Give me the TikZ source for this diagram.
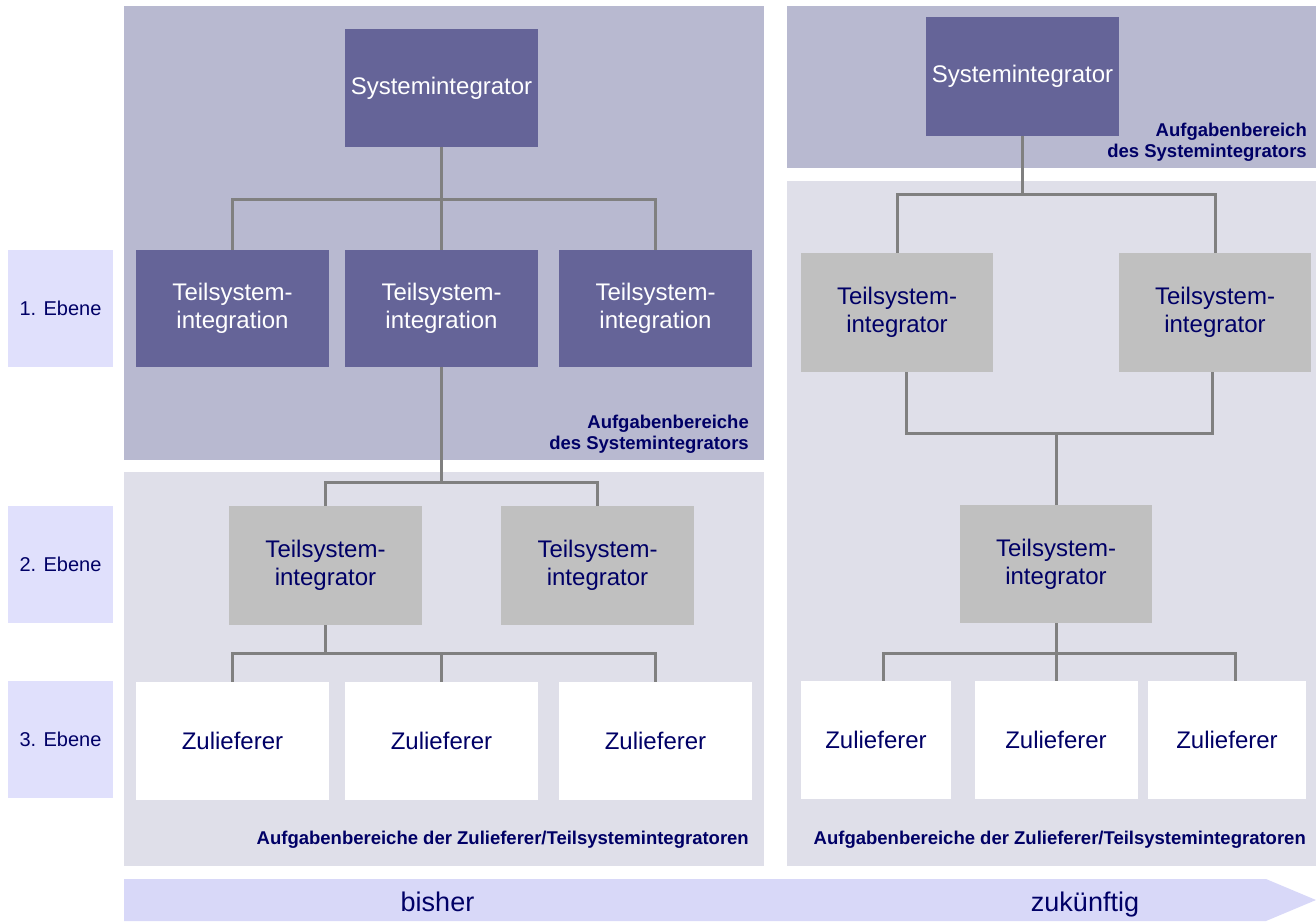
\documentclass[tikz,border=0pt]{standalone}
\usepackage{fontspec}
\setmainfont{Liberation Sans}
\usetikzlibrary{positioning}

\definecolor{areaTop}{RGB}{184,185,208}
\definecolor{areaLow}{RGB}{223,223,233}
\definecolor{sysPurple}{RGB}{101,100,152}
\definecolor{subGray}{RGB}{192,192,192}
\definecolor{levelLilac}{RGB}{224,224,252}
\definecolor{timeLilac}{RGB}{216,216,248}
\definecolor{txtNavy}{RGB}{0,0,102}
\definecolor{linkGray}{RGB}{128,128,128}

\begin{document}
\begin{tikzpicture}[x=1pt, y=-1pt,
    box/.style={rectangle, inner sep=0pt, minimum width=193pt, minimum height=118pt,
      align=center, font=\fontsize{24}{28}\selectfont},
    sysbox/.style={box, fill=sysPurple, text=white},
    subbox/.style={box, fill=subGray, text=txtNavy},
    supbox/.style={box, fill=white, text=txtNavy},
    levelbox/.style={rectangle, inner sep=0pt, minimum width=105pt, minimum height=117pt,
      fill=levelLilac, text=txtNavy, font=\fontsize{20}{24}\selectfont},
    link/.style={draw=linkGray, line width=3pt},
    arealabel/.style={inner sep=0pt, align=right, text=txtNavy,
      font=\fontsize{18.5}{21}\selectfont\bfseries},
    timelabel/.style={inner sep=0pt, anchor=base, text=txtNavy,
      font=\fontsize{27}{32}\selectfont}]
  \useasboundingbox (0,0) rectangle (1316,921);

  % background areas
  \fill[areaTop] (124,6) rectangle (764,460);
  \fill[areaLow] (124,472) rectangle (764,866);
  \fill[areaTop] (787,6) rectangle (1316,168);
  \fill[areaLow] (787,181) rectangle (1316,866);

  % levels
  \node[levelbox] (e1) at (60.5,308.5) {1. Ebene};
  \node[levelbox] (e2) at (60.5,564.5) {2. Ebene};
  \node[levelbox] (e3) at (60.5,739.5) {3. Ebene};

  % bisher
  \node[sysbox] (si1) at (441.5,88) {Systemintegrator};
  \node[sysbox, minimum height=117pt] (tsi1a) at (232.5,308.5) {Teilsystem-\\integration};
  \node[sysbox, minimum height=117pt] (tsi1b) at (441.5,308.5) {Teilsystem-\\integration};
  \node[sysbox, minimum height=117pt] (tsi1c) at (655.5,308.5) {Teilsystem-\\integration};
  \node[subbox, minimum height=119pt] (tsr1a) at (325.5,565.5) {Teilsystem-\\integrator};
  \node[subbox, minimum height=119pt] (tsr1b) at (597.5,565.5) {Teilsystem-\\integrator};
  \node[supbox] (zl1a) at (232.5,741) {Zulieferer};
  \node[supbox] (zl1b) at (441.5,741) {Zulieferer};
  \node[supbox] (zl1c) at (655.5,741) {Zulieferer};

  \coordinate (bus1) at (441.5,199);
  \coordinate (bus2) at (441.5,482);
  \coordinate (bus3) at (441.5,653);
  \draw[link] (si1.south) -- (tsi1b.north);
  \draw[link] (tsi1a.north) |- (bus1) -| (tsi1c.north);
  \draw[link] (tsi1b.south) -- (bus2);
  \draw[link] (tsr1a.north) |- (bus2) -| (tsr1b.north);
  \draw[link] (tsr1a.south) -- (tsr1a.south |- bus3);
  \draw[link] (zl1a.north) |- (bus3) -| (zl1c.north);
  \draw[link] (zl1b.north) -- (bus3);

  \node[arealabel, anchor=south east] (lab1) at (749,454) {Aufgabenbereiche\\des Systemintegrators};
  \node[arealabel, anchor=east] (lab2) at (749,840) {Aufgabenbereiche der Zulieferer/Teilsystemintegratoren};

  % zukuenftig
  \node[sysbox, minimum height=119pt] (si2) at (1022.5,76.5) {Systemintegrator};
  \node[subbox, minimum width=192pt, minimum height=119pt] (tsr2a) at (897,312.5) {Teilsystem-\\integrator};
  \node[subbox, minimum width=192pt, minimum height=119pt] (tsr2b) at (1215,312.5) {Teilsystem-\\integrator};
  \node[subbox, minimum width=192pt] (tsr2c) at (1056,564) {Teilsystem-\\integrator};
  \node[supbox, minimum width=150pt] (zl2a) at (876,740) {Zulieferer};
  \node[supbox, minimum width=163pt] (zl2b) at (1056,740) {Zulieferer};
  \node[supbox, minimum width=158pt] (zl2c) at (1227,740) {Zulieferer};

  \coordinate (bus4) at (1022.5,194);
  \coordinate (bus5) at (1056,433);
  \coordinate (bus6) at (1056,653);
  \draw[link] (si2.south) -- (bus4);
  \draw[link] (tsr2a.north) |- (bus4) -| (tsr2b.north);
  \draw[link] ([xshift=9pt]tsr2a.south) |- (bus5) -| ([xshift=-3pt]tsr2b.south);
  \draw[link] (bus5) -- (tsr2c.north);
  \draw[link] (tsr2c.south) -- (zl2b.north);
  \draw[link] ([xshift=7pt]zl2a.north) |- (bus6) -| ([xshift=8pt]zl2c.north);

  \node[arealabel, anchor=south east] (lab3) at (1307,162) {Aufgabenbereich\\des Systemintegrators};
  \node[arealabel, anchor=east] (lab4) at (1306,840) {Aufgabenbereiche der Zulieferer/Teilsystemintegratoren};

  % time arrow
  \fill[timeLilac] (124,879) -- (1266,879) -- (1316,900) -- (1266,921) -- (124,921) -- cycle;
  \node[timelabel] (past) at (437.5,911) {bisher};
  \node[timelabel] (future) at (1085,911) {zukünftig};
\end{tikzpicture}
\end{document}
